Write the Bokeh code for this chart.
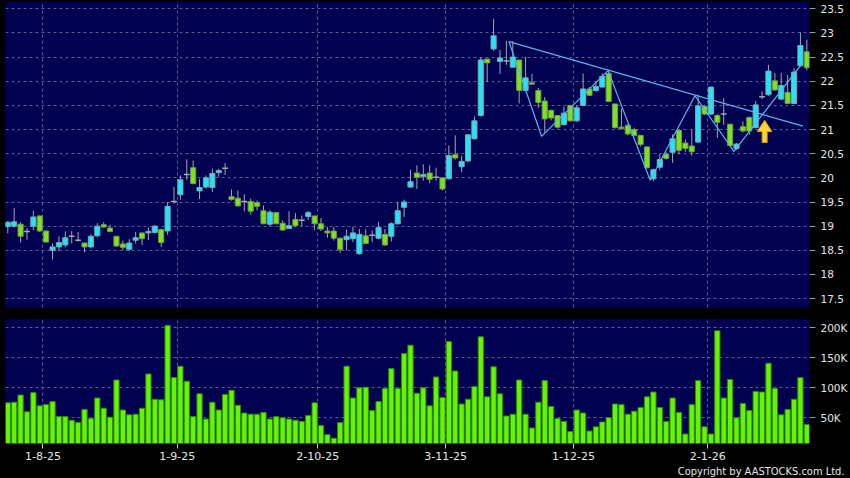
import numpy as np
from bokeh.plotting import figure
from bokeh.layouts import column
from bokeh.models import (Range1d, FixedTicker, Grid, Title, NumeralTickFormatter,
                          PrintfTickFormatter, CustomJSTickFormatter, GlobalInlineStyleSheet)
from bokeh.embed import file_html
from bokeh.resources import INLINE

# ---------------- data (daily candles, 24 Jul 2025 .. 23 Jan 2026) ----------------
opens = [18.99, 19.00, 19.04, 18.89, 19.00, 19.21, 18.90, 18.50, 18.57, 18.61,
         18.79, 18.71, 18.65, 18.57, 18.80, 19.03, 18.96, 18.79, 18.63, 18.52,
         18.71, 18.86, 18.86, 18.87, 18.93, 18.90, 19.51, 19.65, 20.07, 20.21,
         19.73, 19.81, 19.80, 20.11, 20.20, 19.61, 19.58, 19.51, 19.51, 19.49,
         19.32, 19.04, 19.28, 19.06, 18.95, 19.14, 19.12, 19.20, 19.21, 19.05,
         18.90, 18.90, 18.75, 18.72, 18.74, 18.43, 18.80, 18.81, 18.75, 18.83,
         18.79, 19.05, 19.39, 19.81, 20.10, 20.03, 20.10, 20.01, 20.00, 19.98,
         20.48, 20.23, 20.35, 20.81, 21.29, 22.46, 22.67, 22.41, 22.42, 22.29,
         22.44, 21.81, 21.97, 21.81, 21.59, 21.40, 21.29, 21.10, 21.50, 21.18,
         21.50, 21.84, 21.81, 21.88, 22.16, 21.53, 21.05, 21.09, 21.00, 20.88,
         20.64, 19.98, 20.22, 20.49, 20.53, 20.98, 20.72, 20.66, 20.74, 21.48,
         21.32, 21.29, 21.32, 21.11, 20.61, 21.06, 21.25, 21.04, 21.68, 21.72,
         22.01, 21.63, 21.77, 21.54, 22.32, 22.61]
highs = [19.11, 19.37, 19.08, 18.96, 19.32, 19.23, 18.90, 18.64, 18.79, 18.89,
         18.90, 18.88, 18.66, 18.83, 19.06, 19.08, 19.03, 18.79, 18.70, 18.73,
         18.88, 18.87, 18.97, 19.02, 18.95, 19.50, 19.81, 20.05, 20.38, 20.36,
         19.98, 20.05, 20.19, 20.19, 20.31, 19.76, 19.74, 19.66, 19.57, 19.53,
         19.43, 19.33, 19.29, 19.12, 19.31, 19.27, 19.22, 19.31, 19.22, 19.17,
         18.98, 18.98, 18.77, 18.93, 18.99, 18.94, 18.94, 18.91, 19.09, 18.94,
         19.08, 19.50, 19.55, 20.17, 20.26, 20.28, 20.26, 20.21, 20.00, 20.67,
         20.88, 20.46, 20.89, 21.27, 22.50, 22.46, 23.29, 22.65, 22.84, 22.83,
         22.44, 22.50, 22.15, 21.86, 21.67, 21.40, 21.29, 21.47, 21.50, 21.50,
         22.16, 21.88, 21.98, 22.16, 22.24, 21.53, 21.43, 21.11, 21.04, 20.88,
         20.65, 20.19, 20.49, 20.53, 20.90, 21.00, 20.79, 21.00, 21.72, 21.51,
         21.88, 21.32, 21.65, 21.11, 20.72, 21.17, 21.27, 21.59, 21.79, 22.34,
         22.17, 22.17, 22.13, 22.27, 23.01, 22.86]
lows = [18.85, 18.97, 18.66, 18.72, 18.92, 18.88, 18.66, 18.31, 18.48, 18.56,
        18.64, 18.68, 18.46, 18.54, 18.77, 18.97, 18.87, 18.57, 18.50, 18.48,
        18.64, 18.61, 18.71, 18.85, 18.57, 18.82, 19.47, 19.55, 19.96, 19.87,
        19.56, 19.78, 19.71, 20.02, 20.06, 19.53, 19.40, 19.31, 19.24, 19.33,
        19.04, 19.00, 19.04, 18.90, 18.95, 18.98, 19.00, 19.13, 18.92, 18.90,
        18.76, 18.70, 18.45, 18.50, 18.67, 18.41, 18.63, 18.67, 18.73, 18.59,
        18.68, 19.03, 19.19, 19.79, 19.77, 19.94, 19.89, 19.94, 19.74, 19.97,
        20.38, 20.12, 20.32, 20.79, 21.27, 21.98, 22.63, 22.15, 22.34, 22.28,
        21.54, 21.79, 21.93, 21.45, 20.94, 21.19, 21.02, 21.09, 21.16, 21.16,
        21.48, 21.69, 21.78, 21.87, 21.57, 21.02, 21.00, 20.88, 20.86, 20.65,
        20.19, 19.93, 20.16, 20.38, 20.31, 20.49, 20.54, 20.46, 20.72, 21.30,
        21.30, 20.82, 21.10, 20.65, 20.58, 20.94, 20.89, 21.03, 21.63, 21.70,
        21.80, 21.61, 21.53, 21.53, 22.30, 22.23]
closes = [19.08, 19.09, 18.79, 18.89, 19.19, 18.90, 18.67, 18.57, 18.66, 18.76,
          18.79, 18.71, 18.57, 18.79, 19.00, 18.98, 18.89, 18.59, 18.56, 18.65,
          18.76, 18.74, 18.89, 19.00, 18.66, 19.41, 19.51, 19.96, 20.07, 19.88,
          19.80, 20.00, 20.09, 20.15, 20.20, 19.55, 19.42, 19.51, 19.31, 19.41,
          19.05, 19.29, 19.05, 18.92, 19.01, 19.01, 19.12, 19.28, 19.05, 18.94,
          18.86, 18.75, 18.51, 18.79, 18.86, 18.83, 18.64, 18.81, 18.97, 18.61,
          19.05, 19.32, 19.50, 19.92, 20.01, 20.07, 19.97, 20.01, 19.77, 20.46,
          20.41, 20.34, 20.89, 21.18, 22.44, 22.38, 22.94, 22.48, 22.42, 22.50,
          21.81, 22.07, 21.94, 21.56, 21.22, 21.24, 21.05, 21.34, 21.18, 21.45,
          21.84, 21.71, 21.89, 22.10, 21.58, 21.04, 21.02, 20.91, 20.88, 20.69,
          20.21, 20.17, 20.38, 20.40, 20.81, 20.57, 20.61, 20.54, 21.49, 21.32,
          21.88, 21.15, 21.32, 20.67, 20.70, 20.97, 20.97, 21.51, 21.68, 22.21,
          21.82, 21.91, 21.54, 22.19, 22.74, 22.28]
volumes_k = [75, 76, 88, 60, 92, 70, 72, 77, 52, 52,
             46, 42, 64, 49, 83, 66, 51, 113, 63, 55,
             56, 66, 123, 81, 80, 204, 117, 136, 111, 52,
             90, 48, 76, 63, 89, 96, 71, 58, 56, 56,
             59, 48, 52, 50, 48, 46, 44, 54, 75, 37,
             22, 16, 42, 136, 83, 100, 101, 62, 77, 99,
             132, 99, 157, 171, 91, 100, 70, 118, 84, 177,
             128, 73, 81, 102, 185, 85, 135, 90, 53, 56,
             113, 56, 33, 76, 112, 69, 49, 44, 27, 63,
             58, 28, 35, 43, 50, 73, 72, 56, 61, 67,
             85, 93, 67, 44, 83, 59, 23, 72, 112, 35,
             23, 195, 83, 114, 50, 74, 62, 94, 93, 141,
             99, 55, 64, 81, 117, 39]

month_labels = ["1-8-25", "1-9-25", "2-10-25", "3-11-25", "1-12-25", "2-1-26"]
month_first_index = [6, 27, 49, 69, 89, 110]
price_ticks = [17.5, 18, 18.5, 19, 19.5, 20, 20.5, 21, 21.5, 22, 22.5, 23, 23.5]
volume_ticks_k = [50, 100, 150, 200]

# drawn annotations (trend line, zig-zag, arrow) in candle-index / price units
trend_x = [78.4, 124.4]
trend_y = [22.82, 21.07]
zigzag_x = [78.4, 83.5, 93.9, 100.5, 107.5, 113.6, 124.4]
zigzag_y = [22.82, 20.86, 22.22, 19.95, 21.70, 20.55, 22.39]
arrow_x = 118.4
arrow_tip, arrow_head_base, arrow_tail = 21.19, 20.96, 20.73

# ---------------- styles ----------------
BG = "#000050"
GRID = "#5c5c92"
CYAN = "#22e4f4"
GREEN = "#7ee21e"
WICK = "#a8a8a8"
LABEL = "#e6e6e6"
FONT = "DejaVu Sans"

idx = np.arange(len(opens))
o = np.array(opens); h = np.array(highs); l = np.array(lows); c = np.array(closes)
up = c > o
dn = c < o
fl = c == o

grid_x = [i - 0.5 for i in month_first_index]
x_range = Range1d(-0.36, 125.42)


def style_yaxis(fig):
    ax = fig.yaxis
    ax.axis_line_color = None
    ax.major_tick_line_color = "#9a9a9a"
    ax.major_tick_out = 6
    ax.major_tick_in = 0
    ax.minor_tick_line_color = None
    ax.major_label_text_color = LABEL
    ax.major_label_text_font = FONT
    ax.major_label_text_font_size = "10.5px"
    ax.major_label_standoff = 5


# ---------------- price panel ----------------
p = figure(width=850, height=313, x_range=x_range, y_range=Range1d(17.316, 23.651),
           output_backend="svg", toolbar_location=None,
           x_axis_location=None, y_axis_location="right",
           background_fill_color=BG, border_fill_color="black", outline_line_color=None,
           min_border_left=5, min_border_right=40, min_border_top=1, min_border_bottom=6)
p.grid.visible = False
p.yaxis.ticker = FixedTicker(ticks=price_ticks)
p.yaxis.formatter = NumeralTickFormatter(format="0.[0]")
style_yaxis(p)
p.add_layout(Grid(dimension=1, ticker=FixedTicker(ticks=price_ticks), grid_line_color=GRID,
                  grid_line_dash="3 3", grid_line_width=1))
p.add_layout(Grid(dimension=0, ticker=FixedTicker(ticks=grid_x), grid_line_color=GRID,
                  grid_line_dash="3 3", grid_line_width=1))

p.segment(idx, h, idx, l, line_color=WICK, line_width=1)
p.vbar(x=idx[up], width=0.8, top=c[up], bottom=o[up], fill_color=CYAN,
       line_color="#7fa6b4", line_width=1)
p.vbar(x=idx[dn], width=0.8, top=o[dn], bottom=c[dn], fill_color=GREEN,
       line_color="#6f9a48", line_width=1)
p.segment(idx[fl] - 0.45, o[fl], idx[fl] + 0.45, c[fl], line_color=WICK, line_width=1.5)

p.line(trend_x, trend_y, line_color="#5ab6ee", line_width=1.2)
p.line(zigzag_x, zigzag_y, line_color="#5ab6ee", line_width=1.2)

hw, sw = 1.14, 0.39
ax_ = [arrow_x, arrow_x + hw, arrow_x + sw, arrow_x + sw, arrow_x - sw, arrow_x - sw, arrow_x - hw]
ay_ = [arrow_tip, arrow_head_base, arrow_head_base, arrow_tail, arrow_tail, arrow_head_base, arrow_head_base]
p.patch(ax_, ay_, fill_color="#ffd23c", line_color="#e39a00", line_width=1)

# ---------------- volume panel ----------------
v = figure(width=850, height=165, x_range=x_range, y_range=Range1d(7.2, 213.8),
           output_backend="svg", toolbar_location=None,
           y_axis_location="right",
           background_fill_color=BG, border_fill_color="black", outline_line_color=None,
           min_border_left=5, min_border_right=40, min_border_top=6, min_border_bottom=35)
v.grid.visible = False
v.add_layout(Grid(dimension=1, ticker=FixedTicker(ticks=volume_ticks_k), grid_line_color=GRID,
                  grid_line_dash="3 3", grid_line_width=1))
v.add_layout(Grid(dimension=0, ticker=FixedTicker(ticks=grid_x), grid_line_color=GRID,
                  grid_line_dash="3 3", grid_line_width=1))
v.vbar(x=idx, width=0.82, top=volumes_k, bottom=0, fill_color="#66f406",
       line_color="#2f8c00", line_width=1)

v.yaxis.ticker = FixedTicker(ticks=volume_ticks_k)
v.yaxis.formatter = PrintfTickFormatter(format="%dK")
style_yaxis(v)

xa = v.xaxis
xa.ticker = FixedTicker(ticks=grid_x)
xa.formatter = CustomJSTickFormatter(args=dict(pos=grid_x, labs=month_labels), code="""
    for (let i = 0; i < pos.length; i++) { if (Math.abs(pos[i] - tick) < 1e-6) return labs[i]; }
    return '';
""")
xa.axis_line_color = None
xa.major_tick_line_color = "#d0d0d0"
xa.major_tick_out = 5
xa.major_tick_in = 0
xa.minor_tick_line_color = None
xa.major_label_text_color = LABEL
xa.major_label_text_font = FONT
xa.major_label_text_font_size = "11px"
xa.major_label_standoff = 3

v.add_layout(Title(text="Copyright by AASTOCKS.com Ltd.", align="right", offset=-35,
                   text_color=LABEL, text_font="'Liberation Sans Narrow', 'DejaVu Sans Condensed', sans-serif",
                   text_font_size="11px", text_font_style="normal", standoff=0), "below")

layout = column(p, v, spacing=0,
                stylesheets=[GlobalInlineStyleSheet(css="html,body{margin:0;padding:0;background:#000;overflow:hidden;}")])

open("out.html", "w").write(file_html(layout, INLINE))
